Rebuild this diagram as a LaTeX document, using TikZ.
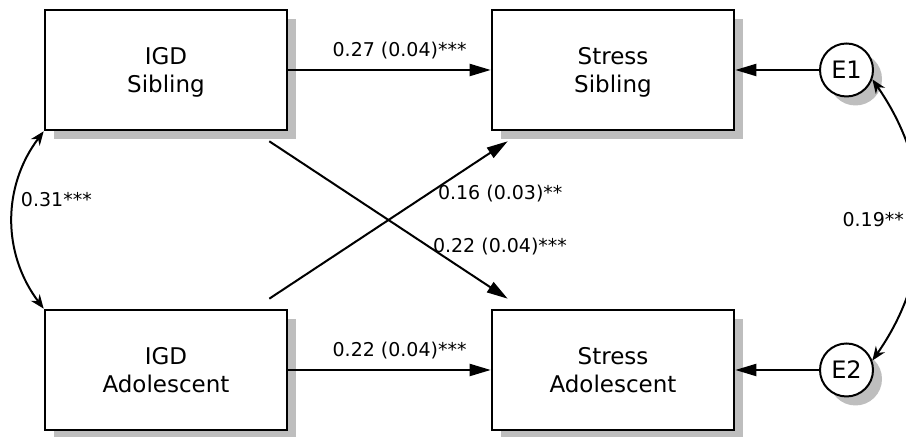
\documentclass[tikz,border=0pt]{standalone}
\usepackage{fontspec}
\setmainfont{DejaVu Sans}
\usetikzlibrary{%
        arrows.meta,
        shadows,
        positioning,
    }
\definecolor{shade}{HTML}{BEBEBE}
\tikzset{%
    varbox/.style={%
        draw,
        line width=1.3pt,
        fill=white,
        minimum width=121pt,
        minimum height=60pt,
        align=center,
        text depth=0pt,
        font=\fontsize{11.5}{14}\selectfont,
        drop shadow={shadow xshift=4.5pt, shadow yshift=-4.5pt,
            fill=shade, opacity=1},
    },
    errcircle/.style={%
        draw,
        circle,
        line width=1pt,
        fill=white,
        minimum size=26.5pt,
        inner sep=0pt,
        font=\fontsize{12}{14}\selectfont,
        drop shadow={shadow xshift=4.5pt, shadow yshift=-4.5pt,
            fill=shade, opacity=1},
    },
    regarrow/.style={%
        -{Triangle[length=10.5pt, width=6pt]},
        line width=1pt,
    },
    covarrow/.style={%
        {Stealth[length=7pt, width=5.5pt]}-{Stealth[length=7pt, width=5.5pt]},
        line width=1pt,
    },
    coef/.style={%
        font=\fontsize{9.5}{11}\selectfont,
        inner sep=1pt,
    },
}

\begin{document}
\begin{tikzpicture}[x=0.5pt, y=0.5pt]

    \useasboundingbox (0, 0) rectangle (906, 437);

    %%%%%%%%%
    % Boxes %
    %%%%%%%%%
    \node[varbox] (igd-sib) at (166, 367) {IGD\\Sibling};
    \node[varbox] (stress-sib) at (613, 367) {Stress\\Sibling};
    \node[varbox] (igd-ado) at (166, 67) {IGD\\Adolescent};
    \node[varbox] (stress-ado) at (613, 67) {Stress\\Adolescent};

    % Errors
    \node[errcircle] (e1) at (846.5, 367) {E1};
    \node[errcircle] (e2) at (846.5, 67) {E2};

    %%%%%%%%%
    % Paths %
    %%%%%%%%%
    \draw[regarrow] (igd-sib.east) -- (stress-sib.west)
        node[coef, pos=0.55, above=3.8pt] {0.27 (0.04)***};
    \draw[regarrow] (igd-ado.east) -- (stress-ado.west)
        node[coef, pos=0.55, above=3.8pt] {0.22 (0.04)***};

    \draw[regarrow]
        ([shift={(-9.5pt, -5pt)}] igd-sib.south east)
        -- ([shift={(8.5pt, 5pt)}] stress-ado.north west)
        node[coef, pos=0.67, anchor=west, xshift=0.5pt] {0.22 (0.04)***};
    \draw[regarrow]
        ([shift={(-9.5pt, 5pt)}] igd-ado.north east)
        -- ([shift={(8.5pt, -5pt)}] stress-sib.south west)
        node[coef, pos=0.67, anchor=west, xshift=3pt] {0.16 (0.03)**};

    \draw[regarrow] (e1.west) -- (stress-sib.east);
    \draw[regarrow] (e2.west) -- (stress-ado.east);

    %%%%%%%%%%%%%%%%
    % Covariances %
    %%%%%%%%%%%%%%%%
    \draw[covarrow] (igd-sib.south west) to[bend right=37]
        node[coef, pos=0.39, anchor=west, xshift=2pt] {0.31***}
        (igd-ado.north west);
    \draw[covarrow] (e1.-20) to[bend left=35]
        node[coef, pos=0.5, anchor=east, xshift=-6.3pt] {0.19**}
        (e2.20);

\end{tikzpicture}
\end{document}
